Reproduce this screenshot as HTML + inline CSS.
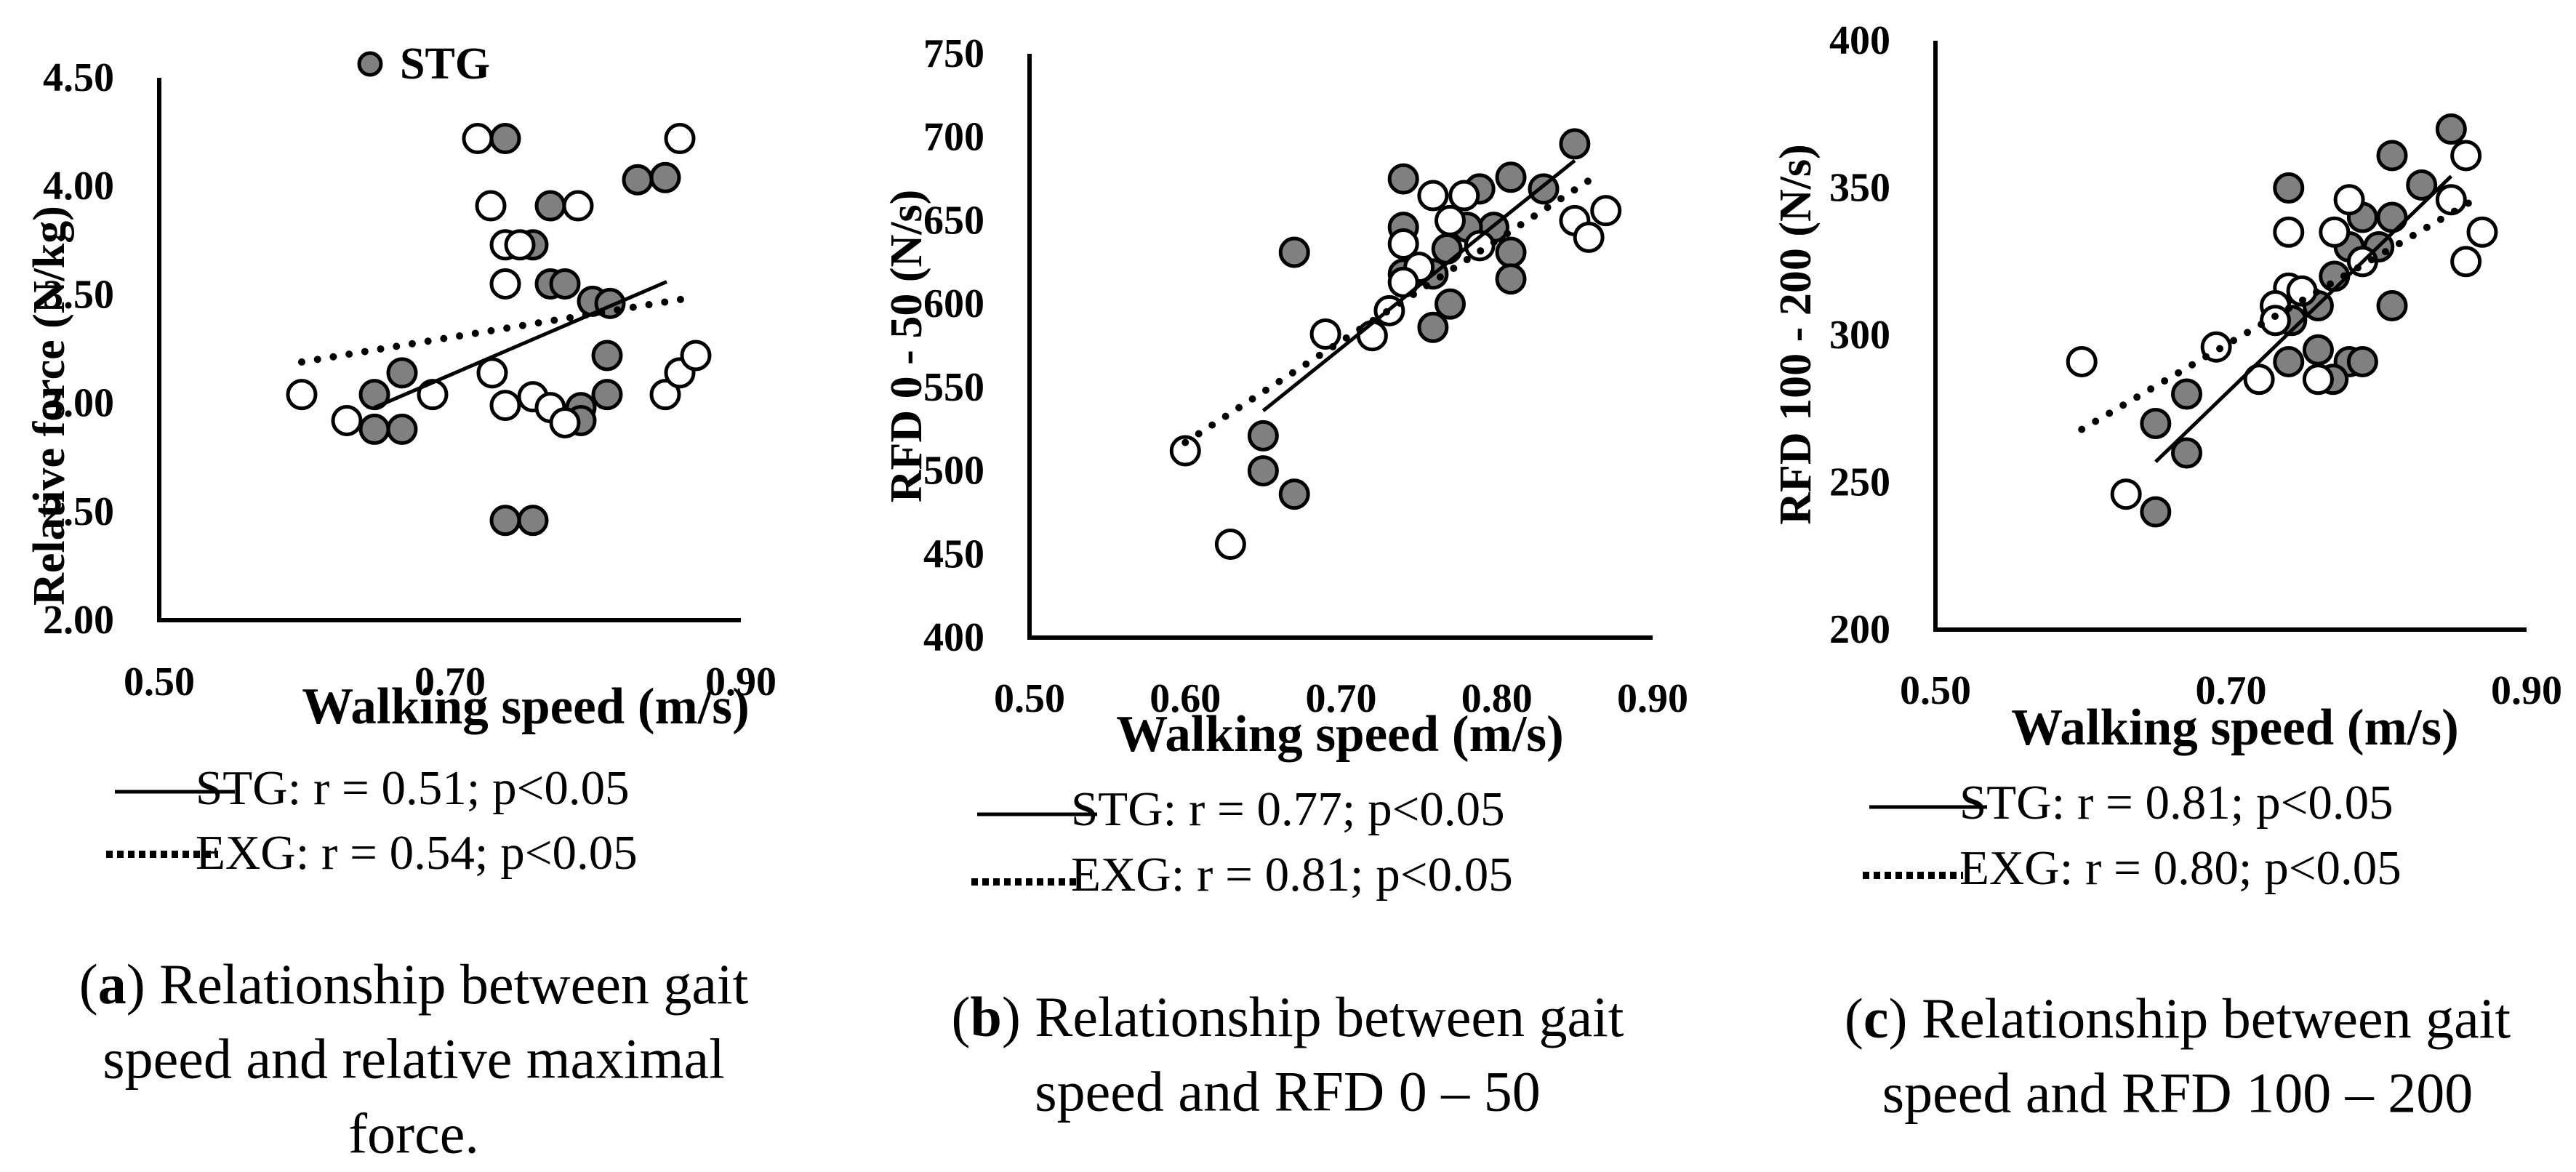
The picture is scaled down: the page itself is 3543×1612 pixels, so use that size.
<!DOCTYPE html>
<html><head><meta charset="utf-8"><style>
html,body{margin:0;padding:0;background:#fff;}
svg{display:block;}
text{font-family:"Liberation Serif",serif;fill:#000;}
.tk{font-weight:bold;font-size:56px;}
.ttl{font-weight:bold;font-size:62px;}
.wt{font-weight:bold;font-size:71px;}
.lg{font-size:67px;}
.cap{font-size:78px;}
</style></head><body>
<svg id="fig" width="3543" height="1612" viewBox="0 0 3543 1612" xmlns="http://www.w3.org/2000/svg"></svg>
<script>
// Panel a: relative force
const aStgX=[0.738,0.829,0.848,0.769,0.757,0.769,0.779,0.798,0.810,0.808,0.667,0.648,0.648,0.667,0.808,0.790,0.790,0.738,0.757];
const aStgY=[4.22,4.03,4.04,3.91,3.73,3.55,3.55,3.47,3.46,3.22,3.14,3.04,2.88,2.88,3.04,2.98,2.92,2.46,2.46];
const aExgX=[0.719,0.858,0.728,0.788,0.738,0.748,0.738,0.729,0.598,0.629,0.688,0.738,0.757,0.769,0.779,0.848,0.858,0.869];
const aExgY=[4.22,4.22,3.91,3.91,3.73,3.73,3.55,3.14,3.04,2.92,3.04,2.99,3.03,2.98,2.91,3.04,3.14,3.22];
const aStgTrendX=[0.648,0.849], aStgTrendY=[2.98,3.56];
const aExgTrendX=[0.598,0.860], aExgTrendY=[3.19,3.48];
const aYTicks=["2.00","2.50","3.00","3.50","4.00","4.50"];
const aXTicks=["0.50","0.70","0.90"];
// Panel b: RFD 0-50
const bStgX=[0.850,0.740,0.809,0.789,0.830,0.740,0.798,0.781,0.768,0.809,0.740,0.759,0.809,0.770,0.759,0.670,0.650,0.650,0.670];
const bStgY=[696,675,676,669,669,646,646,646,633,631,618,618,615,600,586,631,521,500,486];
const bExgX=[0.759,0.779,0.770,0.850,0.870,0.859,0.740,0.789,0.750,0.740,0.731,0.720,0.690,0.600,0.629];
const bExgY=[665,665,650,650,656,640,636,635,622,613,596,581,582,512,456];
const bStgTrendX=[0.650,0.850], bStgTrendY=[536,686];
const bExgTrendX=[0.600,0.864], bExgTrendY=[517,677];
const bYTicks=["400","450","500","550","600","650","700","750"];
const bXTicks=["0.50","0.60","0.70","0.80","0.90"];
// Panel c: RFD 100-200
const cStgX=[0.849,0.809,0.739,0.829,0.789,0.809,0.780,0.800,0.770,0.759,0.809,0.741,0.759,0.739,0.780,0.789,0.769,0.670,0.649,0.670,0.649];
const cStgY=[370,361,350,351,340,340,330,330,320,310,310,305,295,291,291,291,285,280,270,260,240];
const cExgX=[0.859,0.849,0.780,0.739,0.770,0.870,0.789,0.859,0.739,0.748,0.730,0.730,0.690,0.719,0.759,0.599,0.629];
const cExgY=[361,346,346,335,335,335,325,325,316,315,310,305,296,285,285,291,246];
const cStgTrendX=[0.649,0.849], cStgTrendY=[257,354];
const cExgTrendX=[0.599,0.868], cExgTrendY=[268,347];
const cYTicks=["200","250","300","350","400"];
const cXTicks=["0.50","0.70","0.90"];

const NS="http://www.w3.org/2000/svg";
const svg=document.getElementById('fig');
function mk(tag,attrs,parent){const e=document.createElementNS(NS,tag);for(const k in attrs)e.setAttribute(k,attrs[k]);(parent||svg).appendChild(e);return e;}
function txt(s,x,y,cls,parent,anchor){const t=mk('text',{x:x,y:y,class:cls,'text-anchor':anchor||'middle','dominant-baseline':'central'},parent);t.textContent=s;return t;}

function panel(id,P){
  const g=mk('g',{});
  
  
  const xs=v=>P.x0+(v-P.xmin)/(P.xmax-P.xmin)*(P.x1-P.x0);
  const ys=v=>P.y0-(v-P.ymin)/(P.ymax-P.ymin)*(P.y0-P.y1);
  const ax=mk('path',{d:`M${P.x0},${P.y1} V${P.y0} H${P.x1}`,fill:'none',stroke:'#000','stroke-width':6},g);
  
  
  P.yt.forEach(s=>{const t=txt(s,P.x0-62,ys(parseFloat(s)),'tk',g,'end');
    
    });
  P.xt.forEach(s=>{const t=txt(s,xs(parseFloat(s)),P.xty,'tk',g);
    
    });
  const yt=txt(P.ytitle,0,0,'ttl',g);
  yt.setAttribute('transform',`translate(${P.ytx},${P.yty}) rotate(-90)`);
  if(P.ytfs) yt.setAttribute('font-size',P.ytfs);
  
  
  const xt=txt('Walking speed (m/s)',P.wx,P.wy,'wt',g);
  
  
  P.sx.forEach((v,i)=>{const c=mk('circle',{cx:xs(v),cy:ys(P.sy[i]),r:19,fill:'#808080',stroke:'#000','stroke-width':5},g);
    
    });
  P.ex.forEach((v,i)=>{const c=mk('circle',{cx:xs(v),cy:ys(P.ey[i]),r:19,fill:'#fff',stroke:'#000','stroke-width':5},g);
    
    });
  const l1=mk('line',{x1:xs(P.stx[0]),y1:ys(P.sty[0]),x2:xs(P.stx[1]),y2:ys(P.sty[1]),stroke:'#000','stroke-width':5},g);
  
  
  const l2=mk('line',{x1:xs(P.etx[0]),y1:ys(P.ety[0]),x2:xs(P.etx[1]),y2:ys(P.ety[1]),stroke:'#000','stroke-width':10,'stroke-dasharray':'0 22','stroke-linecap':'round'},g);
  
  
  const ll1=mk('line',{x1:P.lg.sx1,y1:P.lg.sly,x2:P.lg.sx2,y2:P.lg.sly,stroke:'#000','stroke-width':5},g);
  
  
  const lt1=txt(P.lg.st,P.lg.tx,P.lg.sty,'lg',g,'start');
  
  
  const ll2=mk('line',{x1:P.lg.ex1,y1:P.lg.ely,x2:P.lg.ex2,y2:P.lg.ely,stroke:'#000','stroke-width':10,'stroke-dasharray':'9 6'},g);
  
  
  const lt2=txt(P.lg.et,P.lg.tx,P.lg.ety,'lg',g,'start');
  
  
  P.cap.forEach((s,i)=>{const t=mk('text',{x:P.cx,y:P.cy+i*103,class:'cap','text-anchor':'middle','dominant-baseline':'central'},g);
    
    
    if(i===0){const b=mk('tspan',{},t);b.textContent='(';const bb=mk('tspan',{'font-weight':'bold'},t);bb.textContent=id;const r=mk('tspan',{},t);r.textContent=')'+s;}
    else t.textContent=s;});
}

panel('a',{x0:219,x1:1019,y0:853,y1:107,xmin:0.5,xmax:0.9,ymin:2,ymax:4.5,yt:aYTicks,xt:aXTicks,xty:938,
  ytitle:'Relative force (N/kg)',ytx:68,yty:558,ytfs:70,wx:723,wy:972,
  sx:aStgX,sy:aStgY,ex:aExgX,ey:aExgY,stx:aStgTrendX,sty:aStgTrendY,etx:aExgTrendX,ety:aExgTrendY,
  lg:{sx1:158,sx2:323,sly:1089,tx:269,sty:1084,st:'STG: r = 0.51; p<0.05',ex1:146,ex2:300,ely:1175,ety:1173,et:'EXG: r = 0.54; p<0.05'},
  cx:569,cy:1353,cap:[' Relationship between gait','speed and relative maximal','force.']});
panel('b',{x0:1416,x1:2273,y0:877,y1:74,xmin:0.5,xmax:0.9,ymin:400,ymax:750,yt:bYTicks,xt:bXTicks,xty:961,
  ytitle:'RFD 0 - 50 (N/s)',ytx:1247,yty:476,ytfs:58,wx:1843,wy:1010,
  sx:bStgX,sy:bStgY,ex:bExgX,ey:bExgY,stx:bStgTrendX,sty:bStgTrendY,etx:bExgTrendX,ety:bExgTrendY,
  lg:{sx1:1344,sx2:1509,sly:1120,tx:1473,sty:1113,st:'STG: r = 0.77; p<0.05',ex1:1336,ex2:1483,ely:1213,ety:1203,et:'EXG: r = 0.81; p<0.05'},
  cx:1771,cy:1398,cap:[' Relationship between gait','speed and RFD 0 – 50']});
panel('c',{x0:2662,x1:3475,y0:866,y1:56,xmin:0.5,xmax:0.9,ymin:200,ymax:400,yt:cYTicks,xt:cXTicks,xty:950,
  ytitle:'RFD 100 - 200 (N/s)',ytx:2470,yty:460,ytfs:68,wx:3074,wy:1001,
  sx:cStgX,sy:cStgY,ex:cExgX,ey:cExgY,stx:cStgTrendX,sty:cStgTrendY,etx:cExgTrendX,ety:cExgTrendY,
  lg:{sx1:2571,sx2:2733,sly:1110,tx:2695,sty:1104,st:'STG: r = 0.81; p<0.05',ex1:2562,ex2:2700,ely:1204,ety:1194,et:'EXG: r = 0.80; p<0.05'},
  cx:2995,cy:1400,cap:[' Relationship between gait','speed and RFD 100 – 200']});

const lm=mk('circle',{cx:509,cy:88,r:15,fill:'#808080',stroke:'#000','stroke-width':5});


const lmt=txt('STG',550,88,'ttl',svg,'start');


</script>
</body></html>
